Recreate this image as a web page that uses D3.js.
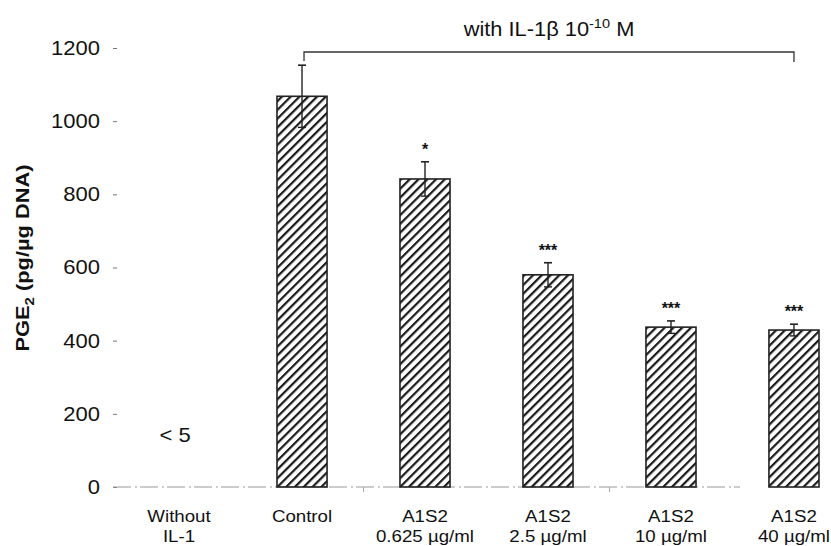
<!DOCTYPE html>
<html>
<head>
<meta charset="utf-8">
<script src="https://cdn.jsdelivr.net/npm/d3@7"></script>
<style>
  body { margin: 0; background: #fff; }
  text { font-family: Arial, "Liberation Sans", sans-serif; fill: #111; }
</style>
</head>
<body>
<div id="chart"></div>
<script>
// data
var groups = ["none", "control", "c0625", "c25", "c10", "c40"];
var labelTop = ["Without", "Control", "A1S2", "A1S2", "A1S2", "A1S2"];
var labelBottom = ["IL-1", "", "0.625 µg/ml", "2.5 µg/ml", "10 µg/ml", "40 µg/ml"];
var means = [0, 1068, 842, 580, 437, 429];
var errors = [0, 85, 47, 33, 17, 16];
var stars = ["", "", "*", "***", "***", "***"];
var yTicks = [0, 200, 400, 600, 800, 1000, 1200];

var width = 831, height = 546;

var svg = d3.select("#chart").append("svg")
    .attr("width", width)
    .attr("height", height);

// the scanned lettering is a bit wider than Arial, so stretch text horizontally
function stretch(sel, k) {
    sel.each(function() {
        var t = d3.select(this);
        var ax = +t.attr("x") || 0;
        var old = t.attr("transform") || "";
        t.attr("transform", old + " translate(" + ax + ",0) scale(" + k + ",1) translate(" + (-ax) + ",0)");
    });
}

// hatch pattern
var defs = svg.append("defs");
defs.append("pattern")
    .attr("id", "hatch")
    .attr("patternUnits", "userSpaceOnUse")
    .attr("width", 6.2)
    .attr("height", 6.2)
    .attr("patternTransform", "rotate(45)")
  .append("rect")
    .attr("x", 0)
    .attr("y", 0)
    .attr("width", 2.2)
    .attr("height", 6.2)
    .attr("fill", "#1a1a1a");

// scales
var x = d3.scaleBand()
    .domain(groups)
    .range([154, 819])
    .paddingInner(0.593)
    .paddingOuter(0);

var y = d3.scaleLinear()
    .domain([0, 1200])
    .range([487, 48]);

// y ticks (no axis line in the original)
var yAxis = svg.append("g")
    .attr("transform", "translate(117,0)")
    .call(d3.axisLeft(y).tickValues(yTicks).tickFormat(d3.format("d")).tickSize(4).tickPadding(13));
yAxis.select(".domain").remove();
yAxis.selectAll("line").attr("stroke", "#777");
yAxis.selectAll("text")
    .style("font-size", "20px")
    .style("font-family", "Arial, 'Liberation Sans', sans-serif")
    .attr("fill", "#111");
stretch(yAxis.selectAll("text"), 1.1);

// baseline
svg.append("line")
    .attr("x1", 113)
    .attr("x2", 740)
    .attr("y1", y(0))
    .attr("y2", y(0))
    .attr("stroke", "#999")
    .attr("stroke-width", 1)
    .attr("stroke-dasharray", "18,4,2,3");

// small x ticks between categories
var bounds = [2, 4];
svg.selectAll(".xtick")
    .data(bounds)
    .enter().append("line")
    .attr("class", "xtick")
    .attr("x1", function(i) { return (x(groups[i - 1]) + x.bandwidth() + x(groups[i])) / 2; })
    .attr("x2", function(i) { return (x(groups[i - 1]) + x.bandwidth() + x(groups[i])) / 2; })
    .attr("y1", y(0))
    .attr("y2", y(0) + 5)
    .attr("stroke", "#aaa");

// bars
var barData = groups.map(function(g, i) {
    return { g: g, v: means[i], e: errors[i], s: stars[i] };
}).filter(function(d) { return d.v > 0; });

svg.selectAll(".bar")
    .data(barData)
    .enter().append("rect")
    .attr("class", "bar")
    .attr("x", function(d) { return x(d.g); })
    .attr("y", function(d) { return y(d.v); })
    .attr("width", x.bandwidth())
    .attr("height", function(d) { return y(0) - y(d.v); })
    .attr("fill", "url(#hatch)")
    .attr("stroke", "#222")
    .attr("stroke-width", 1.6);

// error bars
var eb = svg.selectAll(".err")
    .data(barData)
    .enter().append("g")
    .attr("class", "err");
eb.append("line")
    .attr("x1", function(d) { return x(d.g) + x.bandwidth() / 2; })
    .attr("x2", function(d) { return x(d.g) + x.bandwidth() / 2; })
    .attr("y1", function(d) { return y(d.v - d.e); })
    .attr("y2", function(d) { return y(d.v + d.e); })
    .attr("stroke", "#222")
    .attr("stroke-width", 1.4);
eb.append("line")
    .attr("x1", function(d) { return x(d.g) + x.bandwidth() / 2 - 4; })
    .attr("x2", function(d) { return x(d.g) + x.bandwidth() / 2 + 4; })
    .attr("y1", function(d) { return y(d.v + d.e); })
    .attr("y2", function(d) { return y(d.v + d.e); })
    .attr("stroke", "#222")
    .attr("stroke-width", 1.6);
eb.append("line")
    .attr("x1", function(d) { return x(d.g) + x.bandwidth() / 2 - 4; })
    .attr("x2", function(d) { return x(d.g) + x.bandwidth() / 2 + 4; })
    .attr("y1", function(d) { return y(d.v - d.e); })
    .attr("y2", function(d) { return y(d.v - d.e); })
    .attr("stroke", "#222")
    .attr("stroke-width", 1.4);

// significance stars
svg.selectAll(".star")
    .data(barData.filter(function(d) { return d.s; }))
    .enter().append("text")
    .attr("class", "star")
    .attr("text-anchor", "middle")
    .attr("x", function(d) { return x(d.g) + x.bandwidth() / 2; })
    .attr("y", function(d) { return y(d.v + d.e) - 7; })
    .style("font-size", "16px")
    .style("font-weight", "bold")
    .text(function(d) { return d.s; });

// "< 5" for the group without IL-1
var lt = svg.append("text")
    .attr("x", x("none") + x.bandwidth() / 2 - 4)
    .attr("y", 442)
    .attr("text-anchor", "middle")
    .style("font-size", "20px")
    .text("< 5");
stretch(lt, 1.1);

// x labels
var xl = svg.selectAll(".xlab")
    .data(groups)
    .enter().append("text")
    .attr("class", "xlab")
    .attr("text-anchor", "middle")
    .attr("x", function(g) { return x(g) + x.bandwidth() / 2; })
    .style("font-size", "17px");
xl.append("tspan")
    .attr("x", function(g) { return x(g) + x.bandwidth() / 2; })
    .attr("y", 522)
    .text(function(g, i) { return labelTop[i]; });
xl.append("tspan")
    .attr("x", function(g) { return x(g) + x.bandwidth() / 2; })
    .attr("y", 542)
    .text(function(g, i) { return labelBottom[i]; });
stretch(xl, 1.1);

// y axis title
var yt = svg.append("text")
    .attr("transform", "translate(29,258) rotate(-90)")
    .attr("text-anchor", "middle")
    .style("font-size", "19px")
    .style("font-weight", "bold");
yt.append("tspan").text("PGE");
yt.append("tspan").attr("dy", 5).style("font-size", "13px").text("2");
yt.append("tspan").attr("dy", -5).text(" (pg/µg DNA)");
stretch(yt, 1.15);

// bracket over the IL-1 treated groups
var bx1 = x("control") + x.bandwidth() / 2 + 2;
var bx2 = x("c40") + x.bandwidth() / 2;
svg.append("path")
    .attr("d", "M" + bx1 + "," + 61 + "V52H" + bx2 + "V62")
    .attr("fill", "none")
    .attr("stroke", "#333")
    .attr("stroke-width", 1.3);

var bt = svg.append("text")
    .attr("x", (bx1 + bx2) / 2)
    .attr("y", 36)
    .attr("text-anchor", "middle")
    .style("font-size", "19.5px");
bt.append("tspan").text("with IL-1β 10");
bt.append("tspan").attr("dy", -8).style("font-size", "13px").text("-10");
bt.append("tspan").attr("dy", 8).text(" M");
stretch(bt, 1.12);
</script>
</body>
</html>
